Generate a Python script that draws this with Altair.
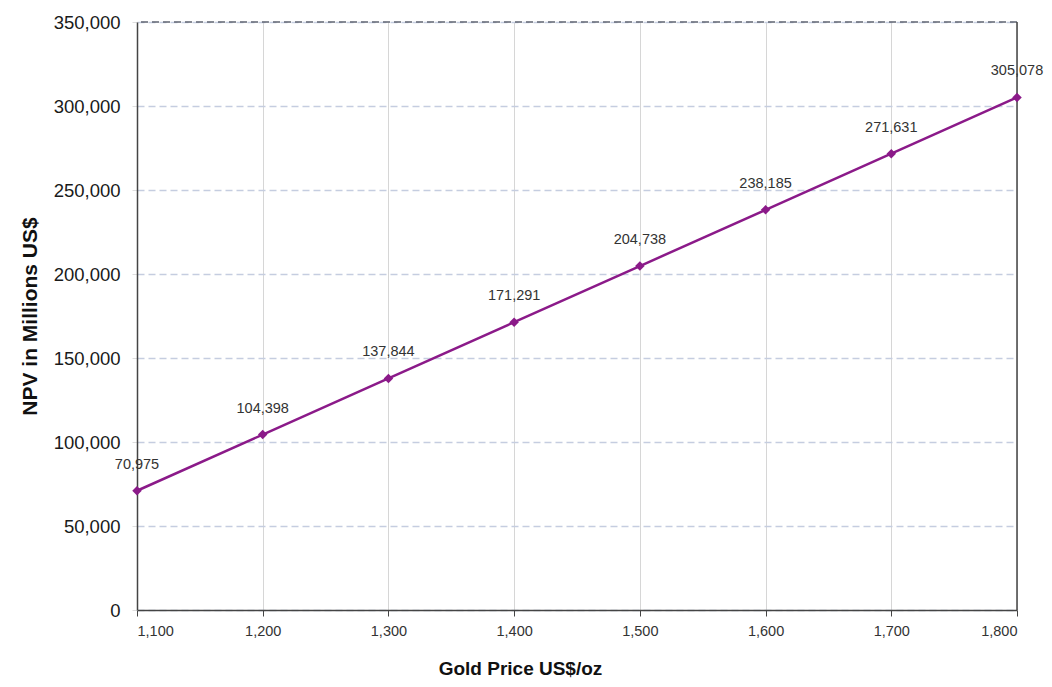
import altair as alt
import pandas as pd

gold_price = [1100, 1200, 1300, 1400, 1500, 1600, 1700, 1800]
npv = [70975, 104398, 137844, 171291, 204738, 238185, 271631, 305078]
y_ticks = [0, 50000, 100000, 150000, 200000, 250000, 300000, 350000]

df = pd.DataFrame({"gold": gold_price, "npv": npv})
FONT = "Liberation Sans"
LINE = "#8b1a89"

x_scale = alt.Scale(domain=[1100, 1800], nice=False, zero=False)
y_scale = alt.Scale(domain=[0, 350000], nice=False)

x_axis = alt.Axis(
    values=gold_price, format=",d", title="Gold Price US$/oz",
    grid=True, gridColor="#d6d6d6", gridWidth=1,
    domainColor="#444444", domainWidth=1.5,
    tickColor="#444444", tickSize=6, tickWidth=1,
    labelFont=FONT, labelFontSize=14.5, labelColor="#333333", labelPadding=8,
    titleFont=FONT, titleFontSize=19, titleFontWeight="bold", titleColor="#111111",
    titleX=383, titleY=58, titleBaseline="middle", titleAlign="center",
)
y_axis = alt.Axis(
    values=y_ticks, format=",d", title="NPV in Millions US$",
    grid=True, gridColor="#c5cde0", gridWidth=1.5, gridDash=[7, 4],
    domainColor="#444444", domainWidth=1.5,
    tickColor="#dddddd", tickSize=5,
    labelFont=FONT, labelFontSize=18.5, labelColor="#1a1a1a", labelPadding=12,
    titleFont=FONT, titleFontSize=21, titleFontWeight="bold", titleColor="#111111",
    titleX=-107, titleY=294, titleAngle=-90, titleAlign="center", titleBaseline="middle",
)

x_enc = alt.X("gold:Q", scale=x_scale, axis=x_axis)
y_enc = alt.Y("npv:Q", scale=y_scale, axis=y_axis)

base = alt.Chart(df).encode(x=x_enc, y=y_enc)

line = base.mark_line(color=LINE, strokeWidth=2.5)
points = base.mark_point(shape="diamond", filled=True, size=90, color=LINE, opacity=1)
labels = base.mark_text(font=FONT, fontSize=14.5, color="#333333", dy=-26, baseline="middle").encode(
    text=alt.Text("npv:Q", format=","),
)

top_df = pd.DataFrame({"npv": [y_ticks[-1]]})
top_line = alt.Chart(top_df).mark_rule(color="#5f6472", strokeWidth=1.5, strokeDash=[7, 4]).encode(
    y=y_enc,
)
right_df = pd.DataFrame({"gold": [gold_price[-1]]})
right_line = alt.Chart(right_df).mark_rule(color="#444444", strokeWidth=1.5).encode(
    x=x_enc,
)

chart = alt.layer(top_line, right_line, line, points, labels).properties(
    width=880, height=588,
    autosize=alt.AutoSizeParams(type="none"),
    padding={"left": 129, "top": 14, "right": 27, "bottom": 69},
).configure_view(stroke=None)

chart.save("out.html", embed_options={"renderer": "svg", "actions": False})
